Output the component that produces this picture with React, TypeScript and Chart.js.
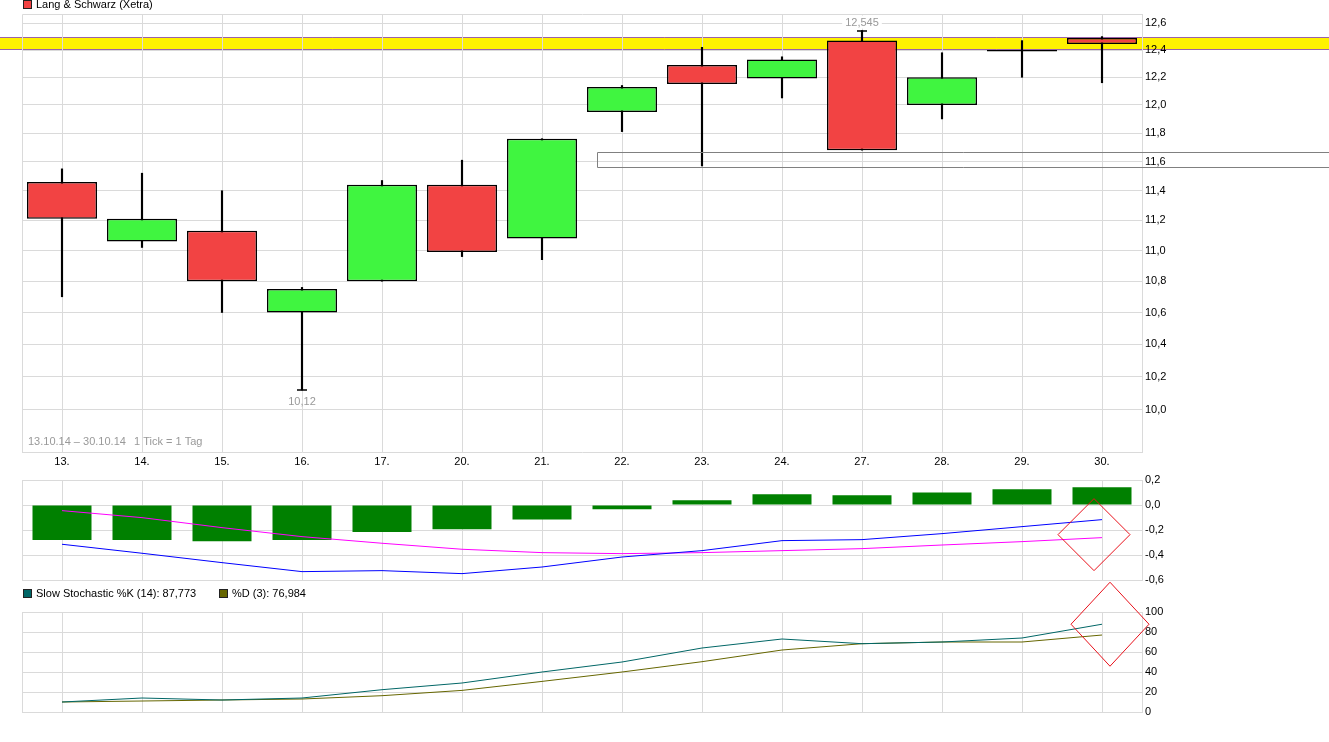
import React, { useEffect, useRef } from 'react';
import { Chart, registerables } from 'chart.js';

Chart.register(...registerables);

// ---------- data ----------
const categories = ['13.', '14.', '15.', '16.', '17.', '20.', '21.', '22.', '23.', '24.', '27.', '28.', '29.', '30.'];
const openVals = [11.46, 11.06, 11.13, 10.6, 10.8, 11.44, 11.08, 11.95, 12.29, 12.19, 12.47, 12.0, 12.39, 12.49];
const closeVals = [11.21, 11.21, 10.8, 10.75, 11.44, 10.99, 11.76, 12.13, 12.15, 12.33, 11.68, 12.2, 12.39, 12.445];
const highVals = [11.55, 11.52, 11.4, 10.76, 11.47, 11.61, 11.76, 12.14, 12.42, 12.35, 12.545, 12.38, 12.47, 12.5];
const lowVals = [10.7, 11.02, 10.6, 10.12, 10.8, 10.96, 10.94, 11.81, 11.57, 12.05, 11.68, 11.9, 12.2, 12.16];
const mainTicks = [10.0, 10.2, 10.4, 10.6, 10.8, 11.0, 11.2, 11.4, 11.6, 11.8, 12.0, 12.2, 12.4, 12.6];
const bandRange = [12.403, 12.492];
const boxRange = [11.56, 11.67];
const boxStartIndex = 6.69;

const histVals = [-0.28, -0.28, -0.29, -0.28, -0.216, -0.194, -0.115, -0.034, 0.038, 0.086, 0.078, 0.1, 0.126, 0.142];
const macdVals = [-0.314, -0.386, -0.461, -0.533, -0.525, -0.549, -0.496, -0.416, -0.365, -0.285, -0.277, -0.229, -0.173, -0.117];
const signalVals = [-0.045, -0.101, -0.181, -0.253, -0.306, -0.354, -0.381, -0.389, -0.381, -0.365, -0.349, -0.32, -0.293, -0.261];
const macdTicks = [0.2, 0.0, -0.2, -0.4, -0.6];
const macdMarker = { index: 12.9, value: -0.237 };

const stochK = [10, 14, 12, 14, 22.3, 29, 40, 50, 64, 73, 68.3, 70, 74, 87.773];
const stochD = [10, 11, 12, 13, 16.3, 21.6, 30.6, 40, 50.3, 62, 68.3, 70, 70, 76.984];
const stochTicks = [0, 20, 40, 60, 80, 100];
const stochMarker = { index: 13.1, value: 87.773 };

const periodText = '13.10.14 – 30.10.14';
const tickText = '1 Tick = 1 Tag';
const mainLegend = 'Lang & Schwarz (Xetra)';

// ---------- styles ----------
const W = 1329;
const H = 742;
const FONT = '"Liberation Sans", Arial, Helvetica, sans-serif';
const GRID = '#dadada';
const RED = '#f24343';
const GREEN = '#40f540';
const HIST = '#008000';
const TEAL = '#006666';
const OLIVE = '#666600';

Chart.defaults.font.family = FONT;
Chart.defaults.font.size = 11;

const comma = (v: number, d: number) => (Math.round(v * Math.pow(10, d)) / Math.pow(10, d)).toFixed(d).replace('.', ',').replace(/^-0,0$/, '0,0');

function frameLines(chart: any) {
  const { ctx, chartArea: a } = chart;
  ctx.save();
  ctx.strokeStyle = GRID;
  ctx.lineWidth = 1;
  ctx.beginPath();
  ctx.moveTo(Math.round(a.left) + 0.5, Math.round(a.top) + 0.5);
  ctx.lineTo(Math.round(a.right) + 0.5, Math.round(a.top) + 0.5);
  ctx.moveTo(Math.round(a.left) + 0.5, Math.round(a.top) + 0.5);
  ctx.lineTo(Math.round(a.left) + 0.5, Math.round(a.bottom) + 0.5);
  ctx.stroke();
  ctx.restore();
}

function legendBox(ctx: CanvasRenderingContext2D, x: number, y: number, color: string, text: string) {
  ctx.fillStyle = color;
  ctx.fillRect(x, y, 8, 8);
  ctx.strokeStyle = '#222';
  ctx.lineWidth = 1;
  ctx.strokeRect(x + 0.5, y + 0.5, 8, 8);
  ctx.fillStyle = '#000';
  ctx.font = `11px ${FONT}`;
  ctx.textBaseline = 'middle';
  ctx.textAlign = 'left';
  ctx.fillText(text, x + 13, y + 5);
}

function diamond(chart: any, idx: number, value: number, hw: number, hh: number) {
  const { ctx, scales } = chart;
  const cx = scales.x.getPixelForValue(idx);
  const cy = scales.y.getPixelForValue(value);
  ctx.save();
  ctx.strokeStyle = '#e8101a';
  ctx.lineWidth = 1;
  ctx.beginPath();
  ctx.moveTo(cx, cy - hh);
  ctx.lineTo(cx + hw, cy);
  ctx.lineTo(cx, cy + hh);
  ctx.lineTo(cx - hw, cy);
  ctx.closePath();
  ctx.stroke();
  ctx.restore();
}

function makeMain() {
  const plugin = {
    id: 'mainDecor',
    beforeDraw(chart: any) {
      const { ctx, scales } = chart;
      const yT = Math.floor(scales.y.getPixelForValue(bandRange[1]));
      const yB = Math.floor(scales.y.getPixelForValue(bandRange[0]));
      ctx.save();
      ctx.fillStyle = '#fff200';
      ctx.fillRect(0, yT, chart.width, yB - yT + 1);
      ctx.strokeStyle = '#9a62a8';
      ctx.lineWidth = 1;
      ctx.beginPath();
      ctx.moveTo(0, yT + 0.5);
      ctx.lineTo(chart.width, yT + 0.5);
      ctx.moveTo(0, yB + 0.5);
      ctx.lineTo(chart.width, yB + 0.5);
      ctx.stroke();
      ctx.restore();
    },
    beforeDatasetsDraw(chart: any) {
      frameLines(chart);
    },
    afterDatasetsDraw(chart: any) {
      const { ctx, scales } = chart;
      const xs = scales.x;
      const ys = scales.y;
      ctx.save();
      // grey box
      const bx = Math.round(xs.getPixelForValue(boxStartIndex)) + 0.5;
      const by0 = Math.round(ys.getPixelForValue(boxRange[1])) + 0.5;
      const by1 = Math.round(ys.getPixelForValue(boxRange[0])) + 0.5;
      ctx.strokeStyle = '#808080';
      ctx.lineWidth = 1;
      ctx.beginPath();
      ctx.moveTo(chart.width, by0);
      ctx.lineTo(bx, by0);
      ctx.lineTo(bx, by1);
      ctx.lineTo(chart.width, by1);
      ctx.stroke();

      // max / min markers
      let maxI = 0;
      let minI = 0;
      highVals.forEach((v, i) => { if (v > highVals[maxI]) maxI = i; });
      lowVals.forEach((v, i) => { if (v < lowVals[minI]) minI = i; });
      ctx.font = `11px ${FONT}`;
      ctx.textAlign = 'center';
      const mx = xs.getPixelForValue(maxI);
      const my = ys.getPixelForValue(highVals[maxI]);
      const maxLabel = String(highVals[maxI]).replace('.', ',');
      const tw = ctx.measureText(maxLabel).width;
      ctx.fillStyle = '#fff';
      ctx.fillRect(mx - tw / 2 - 3, my - 15, tw + 6, 13);
      ctx.fillStyle = '#999';
      ctx.textBaseline = 'middle';
      ctx.fillText(maxLabel, mx, my - 8);
      ctx.strokeStyle = '#000';
      ctx.lineWidth = 1.5;
      ctx.beginPath();
      ctx.moveTo(mx - 5, Math.round(my));
      ctx.lineTo(mx + 5, Math.round(my));
      ctx.stroke();

      const nx = xs.getPixelForValue(minI);
      const ny = ys.getPixelForValue(lowVals[minI]);
      ctx.beginPath();
      ctx.moveTo(nx - 5, Math.round(ny));
      ctx.lineTo(nx + 5, Math.round(ny));
      ctx.stroke();
      ctx.fillStyle = '#999';
      ctx.fillText(String(lowVals[minI]).replace('.', ','), nx, ny + 12);

      // period text
      ctx.textAlign = 'left';
      ctx.fillStyle = '#999';
      const py = chart.chartArea.bottom - 10;
      ctx.fillText(periodText, chart.chartArea.left + 6, py);
      ctx.fillText(tickText, chart.chartArea.left + 112, py);

      // legend
      legendBox(ctx, 23, 0, RED, mainLegend);
      ctx.restore();
    },
  };

  return {
    type: 'bar',
    data: {
      labels: categories,
      datasets: [
        {
          label: 'body',
          data: openVals.map((o, i) => [o, closeVals[i]]),
          backgroundColor: openVals.map((o, i) => (closeVals[i] >= o ? GREEN : RED)),
          borderColor: '#000',
          borderWidth: 1.5,
          borderSkipped: false,
          barPercentage: 0.875,
          categoryPercentage: 1,
          grouped: false,
          minBarLength: 1.5,
          order: 1,
        },
        {
          label: 'wick',
          data: lowVals.map((l, i) => [l, highVals[i]]),
          backgroundColor: '#000',
          borderWidth: 0,
          barThickness: 1.5,
          grouped: false,
          order: 2,
        },
      ],
    },
    options: {
      responsive: false,
      animation: false,
      devicePixelRatio: 1,
      events: [],
      layout: { padding: { left: 22, right: 0, top: 14, bottom: 272 } },
      plugins: { legend: { display: false }, tooltip: { enabled: false } },
      scales: {
        x: {
          offset: true,
          grid: { color: GRID, offset: false, drawTicks: false },
          border: { color: GRID },
          ticks: { color: '#000', padding: 3, maxRotation: 0, autoSkip: false, font: { size: 11, family: FONT } },
          afterFit: (s: any) => { s.height = 18; },
        },
        y: {
          type: 'logarithmic',
          position: 'right',
          min: 9.752,
          max: 12.67,
          grid: { color: GRID, drawTicks: false },
          border: { color: GRID },
          ticks: { color: '#000', padding: 3, font: { size: 11, family: FONT }, callback: (v: any) => comma(Number(v), 1) },
          afterBuildTicks: (s: any) => { s.ticks = mainTicks.map((v) => ({ value: v })); },
          afterFit: (s: any) => { s.width = 187; },
        },
      },
    },
    plugins: [plugin],
  };
}

function makeMacd() {
  const plugin = {
    id: 'macdDecor',
    beforeDatasetsDraw(chart: any) { frameLines(chart); },
    afterDatasetsDraw(chart: any) { diamond(chart, macdMarker.index, macdMarker.value, 36, 36); },
  };
  return {
    type: 'bar',
    data: {
      labels: categories,
      datasets: [
        { type: 'line', label: 'MACD', data: macdVals, borderColor: '#0000ff', borderWidth: 1, pointRadius: 0, tension: 0, fill: false, order: 1 },
        { type: 'line', label: 'Signal', data: signalVals, borderColor: '#ff00ff', borderWidth: 1, pointRadius: 0, tension: 0, fill: false, order: 2 },
        { type: 'bar', label: 'Hist', data: histVals, backgroundColor: HIST, borderWidth: 0, barPercentage: 0.7375, categoryPercentage: 1, order: 3 },
      ],
    },
    options: {
      responsive: false,
      animation: false,
      devicePixelRatio: 1,
      events: [],
      layout: { padding: { left: 22, right: 0, top: 480, bottom: 162 } },
      plugins: { legend: { display: false }, tooltip: { enabled: false } },
      scales: {
        x: {
          offset: true,
          grid: { color: GRID, offset: false, drawTicks: false },
          border: { color: GRID },
          ticks: { display: false },
          afterFit: (s: any) => { s.height = 0; },
        },
        y: {
          position: 'right',
          min: -0.6,
          max: 0.2,
          grid: { color: GRID, drawTicks: false },
          border: { color: GRID },
          ticks: { color: '#000', padding: 3, font: { size: 11, family: FONT }, callback: (v: any) => comma(Number(v), 1) },
          afterBuildTicks: (s: any) => { s.ticks = macdTicks.map((v) => ({ value: v })); },
          afterFit: (s: any) => { s.width = 187; },
        },
      },
    },
    plugins: [plugin],
  };
}

function makeStoch() {
  const plugin = {
    id: 'stochDecor',
    beforeDatasetsDraw(chart: any) { frameLines(chart); },
    afterDatasetsDraw(chart: any) {
      diamond(chart, stochMarker.index, stochMarker.value, 39, 42);
      const { ctx } = chart;
      ctx.save();
      legendBox(ctx, 23, 589, TEAL, `Slow Stochastic %K (14): ${comma(stochK[stochK.length - 1], 3)}`);
      legendBox(ctx, 219, 589, OLIVE, `%D (3): ${comma(stochD[stochD.length - 1], 3)}`);
      ctx.restore();
    },
  };
  return {
    type: 'line',
    data: {
      labels: categories,
      datasets: [
        { label: '%D', data: stochD, borderColor: OLIVE, borderWidth: 1, pointRadius: 0, tension: 0, fill: false, order: 2 },
        { label: '%K', data: stochK, borderColor: TEAL, borderWidth: 1, pointRadius: 0, tension: 0, fill: false, order: 1 },
      ],
    },
    options: {
      responsive: false,
      animation: false,
      devicePixelRatio: 1,
      events: [],
      layout: { padding: { left: 22, right: 0, top: 612, bottom: 30 } },
      plugins: { legend: { display: false }, tooltip: { enabled: false } },
      scales: {
        x: {
          offset: true,
          grid: { color: GRID, offset: false, drawTicks: false },
          border: { color: GRID },
          ticks: { display: false },
          afterFit: (s: any) => { s.height = 0; },
        },
        y: {
          position: 'right',
          min: 0,
          max: 100,
          grid: { color: GRID, drawTicks: false },
          border: { color: GRID },
          ticks: { color: '#000', padding: 3, font: { size: 11, family: FONT }, callback: (v: any) => String(v) },
          afterBuildTicks: (s: any) => { s.ticks = stochTicks.map((v) => ({ value: v })); },
          afterFit: (s: any) => { s.width = 187; },
        },
      },
    },
    plugins: [plugin],
  };
}

export default function App() {
  const r1 = useRef<HTMLCanvasElement>(null);
  const r2 = useRef<HTMLCanvasElement>(null);
  const r3 = useRef<HTMLCanvasElement>(null);

  useEffect(() => {
    const c1 = new Chart(r1.current as HTMLCanvasElement, makeMain() as any);
    const c2 = new Chart(r2.current as HTMLCanvasElement, makeMacd() as any);
    const c3 = new Chart(r3.current as HTMLCanvasElement, makeStoch() as any);
    return () => {
      c1.destroy();
      c2.destroy();
      c3.destroy();
    };
  }, []);

  const st: React.CSSProperties = { position: 'absolute', left: 0, top: 0, width: W, height: H };
  return (
    <div style={{ position: 'absolute', left: 0, top: 0, width: W, height: H, background: '#fff' }}>
      <canvas ref={r1} width={W} height={H} style={st} />
      <canvas ref={r2} width={W} height={H} style={st} />
      <canvas ref={r3} width={W} height={H} style={st} />
    </div>
  );
}
